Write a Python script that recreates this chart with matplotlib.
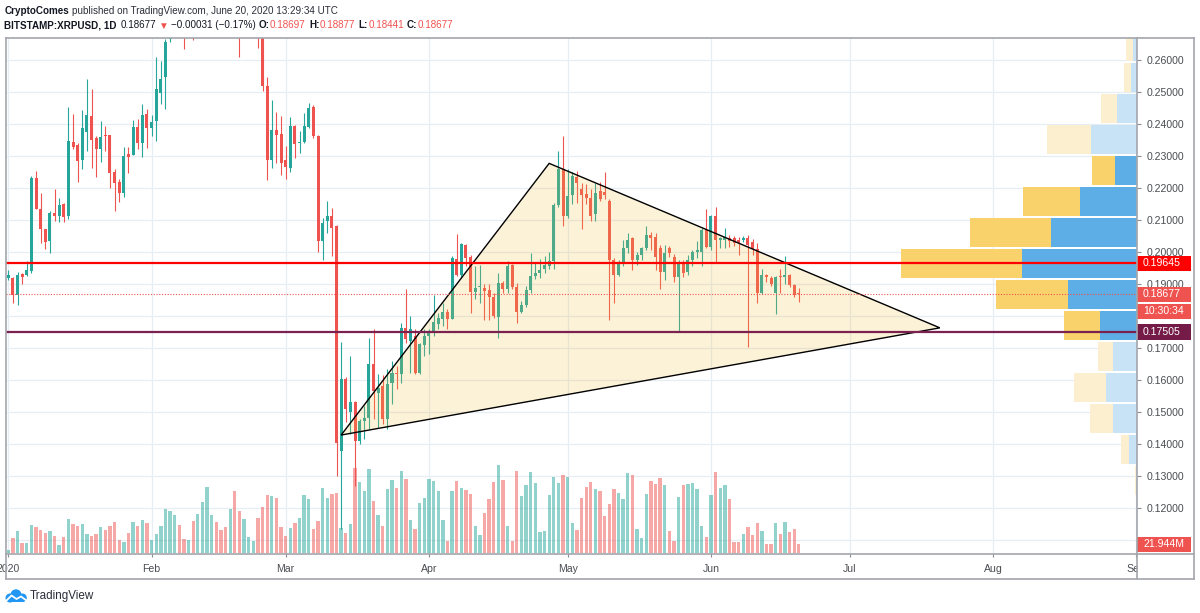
import numpy as np
import pandas as pd
import matplotlib
matplotlib.use('Agg')
import matplotlib.pyplot as plt
import matplotlib.dates as mdates
from matplotlib.patches import Polygon, Rectangle, Circle
from matplotlib.lines import Line2D
from matplotlib.ticker import FuncFormatter

plt.rcParams['font.family'] = ['Liberation Sans', 'DejaVu Sans']

# ---- daily XRPUSD candles, 2020-01-01 .. 2020-06-20 ----
start = '2020-01-01'
opens = [
    0.1920, 0.1920, 0.1865, 0.1931, 0.1927, 0.1940, 0.2230, 0.2135, 0.2073, 0.2035,
    0.2123, 0.2112, 0.2150, 0.2111, 0.2344, 0.2335, 0.2289, 0.2376, 0.2425, 0.2356,
    0.2323, 0.2367, 0.2365, 0.2250, 0.2220, 0.2185, 0.2305, 0.2304, 0.2390, 0.2342,
    0.2431, 0.2386, 0.2409, 0.2498, 0.2548, 0.2665, 0.2700, 0.2760, 0.2720, 0.2680,
    0.2760, 0.2700, 0.2800, 0.2900, 0.3000, 0.3200, 0.3100, 0.3000, 0.2800, 0.2900,
    0.2800, 0.2750, 0.2800, 0.2850, 0.2900, 0.2800, 0.2519, 0.2286, 0.2381, 0.2368,
    0.2286, 0.2263, 0.2394, 0.2340, 0.2344, 0.2392, 0.2454, 0.2363, 0.2035, 0.2097,
    0.2113, 0.2081, 0.1378, 0.1602, 0.1500, 0.1530, 0.1409, 0.1472, 0.1480, 0.1649,
    0.1560, 0.1581, 0.1477, 0.1592, 0.1623, 0.1618, 0.1764, 0.1722, 0.1737, 0.1623,
    0.1709, 0.1737, 0.1753, 0.1774, 0.1792, 0.1812, 0.1792, 0.1979, 0.1927, 0.2021,
    0.1985, 0.1875, 0.1890, 0.1888, 0.1880, 0.1859, 0.1798, 0.1904, 0.1885, 0.1958,
    0.1891, 0.1812, 0.1833, 0.1880, 0.1925, 0.1933, 0.1946, 0.1956, 0.1972, 0.2146,
    0.2260, 0.2113, 0.2177, 0.2235, 0.2198, 0.2180, 0.2170, 0.2118, 0.2190, 0.2188,
    0.2159, 0.1975, 0.1928, 0.1970, 0.2012, 0.2043, 0.1975, 0.1991, 0.2012, 0.2054,
    0.2048, 0.2012, 0.1938, 0.2014, 0.1985, 0.1923, 0.1970, 0.1938, 0.1975, 0.2001,
    0.2001, 0.2069, 0.2017, 0.2111, 0.2038, 0.2038, 0.2043, 0.2043, 0.2038, 0.2038,
    0.2043, 0.2030, 0.2008, 0.1873, 0.1927, 0.1920, 0.1873, 0.1925, 0.1923, 0.1927,
    0.1896, 0.18697]
highs = [
    0.1943, 0.1922, 0.1937, 0.1933, 0.1971, 0.2237, 0.2254, 0.2185, 0.2073, 0.2127,
    0.2196, 0.2169, 0.2154, 0.2452, 0.2432, 0.2342, 0.2444, 0.2540, 0.2510, 0.2363,
    0.2410, 0.2394, 0.2365, 0.2260, 0.2227, 0.2328, 0.2328, 0.2411, 0.2415, 0.2463,
    0.2448, 0.2427, 0.2608, 0.2598, 0.2665, 0.2750, 0.2800, 0.2790, 0.2760, 0.2790,
    0.2800, 0.2830, 0.2950, 0.3050, 0.3250, 0.3400, 0.3150, 0.3050, 0.2950, 0.2950,
    0.2850, 0.2850, 0.2900, 0.2950, 0.2950, 0.2820, 0.2548, 0.2475, 0.2438, 0.2425,
    0.2331, 0.2423, 0.2396, 0.2377, 0.2433, 0.2467, 0.2458, 0.2365, 0.2107, 0.2160,
    0.2138, 0.2083, 0.1719, 0.1610, 0.1675, 0.1535, 0.1477, 0.1519, 0.1732, 0.1758,
    0.1618, 0.1615, 0.1633, 0.1659, 0.1644, 0.1779, 0.1883, 0.1800, 0.1758, 0.1717,
    0.1760, 0.1758, 0.1867, 0.1810, 0.1842, 0.1821, 0.1987, 0.2055, 0.2029, 0.2024,
    0.1992, 0.1956, 0.1958, 0.1899, 0.1899, 0.1872, 0.1935, 0.1909, 0.1972, 0.1961,
    0.1904, 0.1846, 0.1893, 0.1998, 0.1967, 0.1977, 0.1987, 0.2000, 0.2154, 0.2316,
    0.2363, 0.2260, 0.2250, 0.2253, 0.2217, 0.2211, 0.2196, 0.2217, 0.2219, 0.2250,
    0.2165, 0.1980, 0.1975, 0.2038, 0.2059, 0.2046, 0.2001, 0.2017, 0.2080, 0.2061,
    0.2059, 0.2022, 0.2022, 0.2020, 0.1993, 0.1975, 0.1975, 0.1991, 0.2007, 0.2033,
    0.2074, 0.2134, 0.2116, 0.2142, 0.2048, 0.2074, 0.2054, 0.2050, 0.2048, 0.2050,
    0.2054, 0.2040, 0.2029, 0.1946, 0.1930, 0.1925, 0.1925, 0.1946, 0.1988, 0.1930,
    0.1900, 0.18877]
lows = [
    0.1911, 0.1842, 0.1835, 0.1899, 0.1925, 0.1933, 0.2133, 0.2029, 0.2008, 0.1996,
    0.2097, 0.2094, 0.2095, 0.2104, 0.2321, 0.2219, 0.2260, 0.2315, 0.2261, 0.2234,
    0.2280, 0.2316, 0.2200, 0.2127, 0.2157, 0.2173, 0.2248, 0.2302, 0.2321, 0.2296,
    0.2325, 0.2363, 0.2347, 0.2461, 0.2448, 0.2655, 0.2690, 0.2700, 0.2634, 0.2675,
    0.2663, 0.2690, 0.2780, 0.2850, 0.2950, 0.3050, 0.2950, 0.2750, 0.2750, 0.2720,
    0.2610, 0.2700, 0.2750, 0.2800, 0.2637, 0.2503, 0.2225, 0.2263, 0.2279, 0.2242,
    0.2229, 0.2250, 0.2294, 0.2310, 0.2342, 0.2389, 0.2357, 0.2000, 0.1975, 0.2060,
    0.1988, 0.1300, 0.1135, 0.1470, 0.1430, 0.1269, 0.1399, 0.1415, 0.1446, 0.1477,
    0.1451, 0.1461, 0.1446, 0.1524, 0.1571, 0.1592, 0.1717, 0.1623, 0.1618, 0.1618,
    0.1675, 0.1680, 0.1737, 0.1758, 0.1769, 0.1758, 0.1790, 0.1925, 0.1920, 0.1956,
    0.1810, 0.1852, 0.1841, 0.1789, 0.1789, 0.1795, 0.1732, 0.1872, 0.1872, 0.1883,
    0.1777, 0.1808, 0.1829, 0.1873, 0.1915, 0.1920, 0.1933, 0.1946, 0.1946, 0.2142,
    0.2081, 0.2107, 0.2149, 0.2154, 0.2071, 0.2149, 0.2097, 0.2097, 0.2159, 0.2165,
    0.1788, 0.1841, 0.1925, 0.1955, 0.1996, 0.1944, 0.1960, 0.1975, 0.2007, 0.2007,
    0.1944, 0.1885, 0.1912, 0.1985, 0.1907, 0.1749, 0.1923, 0.1928, 0.1955, 0.1980,
    0.1955, 0.2012, 0.2007, 0.1965, 0.2012, 0.2012, 0.2017, 0.2020, 0.1991, 0.2030,
    0.1704, 0.1990, 0.1842, 0.1868, 0.1905, 0.1895, 0.1805, 0.1873, 0.1899, 0.1890,
    0.1860, 0.18441]
closes = [
    0.1928, 0.1865, 0.1927, 0.1923, 0.1943, 0.2232, 0.2135, 0.2071, 0.2032, 0.2123,
    0.2111, 0.2146, 0.2110, 0.2347, 0.2329, 0.2285, 0.2388, 0.2427, 0.2351, 0.2321,
    0.2358, 0.2362, 0.2248, 0.2217, 0.2185, 0.2300, 0.2298, 0.2390, 0.2342, 0.2429,
    0.2386, 0.2406, 0.2508, 0.2542, 0.2656, 0.2700, 0.2760, 0.2720, 0.2680, 0.2760,
    0.2700, 0.2800, 0.2900, 0.3000, 0.3200, 0.3100, 0.3000, 0.2800, 0.2900, 0.2800,
    0.2750, 0.2800, 0.2850, 0.2900, 0.2800, 0.2519, 0.2286, 0.2381, 0.2367, 0.2279,
    0.2265, 0.2394, 0.2338, 0.2345, 0.2394, 0.2450, 0.2363, 0.2035, 0.2090, 0.2113,
    0.2076, 0.1402, 0.1602, 0.1510, 0.1530, 0.1409, 0.1472, 0.1482, 0.1649, 0.1566,
    0.1576, 0.1477, 0.1586, 0.1623, 0.1618, 0.1764, 0.1727, 0.1758, 0.1623, 0.1711,
    0.1737, 0.1750, 0.1781, 0.1795, 0.1812, 0.1792, 0.1982, 0.1927, 0.2024, 0.1982,
    0.1875, 0.1888, 0.1893, 0.1877, 0.1859, 0.1800, 0.1904, 0.1883, 0.1956, 0.1891,
    0.1812, 0.1833, 0.1880, 0.1925, 0.1933, 0.1943, 0.1958, 0.1972, 0.2146, 0.2260,
    0.2113, 0.2175, 0.2238, 0.2217, 0.2177, 0.2170, 0.2113, 0.2185, 0.2165, 0.2177,
    0.1975, 0.1928, 0.1970, 0.2012, 0.2038, 0.1975, 0.1991, 0.2012, 0.2054, 0.2043,
    0.1985, 0.1938, 0.1998, 0.1998, 0.1923, 0.1970, 0.1933, 0.1975, 0.2001, 0.2007,
    0.2069, 0.2017, 0.2111, 0.2038, 0.2043, 0.2048, 0.2033, 0.2027, 0.2027, 0.2043,
    0.2022, 0.2010, 0.1873, 0.1927, 0.1923, 0.1899, 0.1923, 0.1921, 0.1927, 0.1896,
    0.1865, 0.18677]
# volume, millions
volumes = [
    7.6, 38.6, 54.7, 26.0, 26.0, 69.8, 65.5, 57.2, 51.2, 55.4,
    42.8, 20.9, 40.3, 84.9, 72.3, 67.3, 73.8, 47.1, 42.8, 48.6,
    66.3, 58.7, 67.3, 77.4, 32.8, 28.5, 51.2, 77.4, 68.8, 82.4,
    75.6, 33.5, 47.9, 68.0, 111.6, 105.8, 95.8, 71.3, 36.0, 32.0,
    79.9, 98.3, 128.5, 166.3, 96.5, 78.1, 57.2, 65.5, 110.9, 155.5,
    105.1, 85.7, 40.3, 31.0, 89.0, 115.2, 146.2, 142.9, 137.8, 66.3,
    43.6, 62.2, 76.4, 89.0, 146.2, 136.1, 61.2, 79.9, 164.6, 139.4,
    149.4, 151.2, 63.0, 50.4, 72.3, 214.2, 178.2, 155.5, 211.7, 130.3,
    95.0, 67.3, 161.3, 184.7, 163.0, 205.4, 186.5, 83.2, 59.7, 126.8,
    137.8, 185.7, 181.4, 156.2, 83.2, 30.2, 155.5, 182.2, 164.6, 158.8,
    147.9, 68.0, 45.4, 101.6, 136.8, 178.9, 222.5, 183.2, 68.0, 30.2,
    206.6, 143.6, 172.1, 204.1, 177.2, 53.7, 56.2, 145.4, 192.3, 175.6,
    195.8, 192.3, 76.4, 58.0, 137.8, 167.1, 179.7, 160.5, 157.0, 93.2,
    124.2, 160.5, 150.4, 135.3, 200.8, 197.3, 61.2, 38.6, 147.9, 181.4,
    173.1, 189.0, 172.1, 55.4, 30.2, 141.1, 170.6, 173.1, 177.2, 162.0,
    68.0, 41.1, 146.2, 204.9, 164.6, 171.4, 136.8, 27.7, 28.5, 47.9,
    66.3, 46.1, 76.4, 56.2, 23.4, 21.9, 74.8, 47.9, 78.1, 53.7,
    61.2, 21.944]

# volume profile rows (price centre, up volume, down volume, inside value area)
vp_price = [0.2642, 0.2545, 0.2448, 0.2351, 0.2254, 0.2157, 0.2060, 0.1964,
            0.1867, 0.1770, 0.1673, 0.1576, 0.1479, 0.1382, 0.1285]
vp_up = [4.3, 6.0, 20.0, 45.7, 22.0, 56.7, 85.7, 114.7, 69.3, 37.3, 23.7, 30.7, 24.0, 8.3, 1.0]
vp_down = [7.0, 6.7, 15.7, 44.0, 22.7, 57.0, 81.3, 121.3, 71.3, 35.3, 15.7, 32.3, 23.3, 7.3, 1.3]
vp_value_area = [False, False, False, False, True, True, True, True, True, True,
                 False, False, False, False, False]

# drawings
triangle = [('2020-03-13', 0.1428), ('2020-04-27', 0.2277), ('2020-07-20 12:00', 0.1763)]
resistance = 0.19645
support = 0.17505
last_price = 0.18677
countdown = '10:30:34'
last_volume_label = '21.944M'
price_ticks = [0.11, 0.12, 0.13, 0.14, 0.15, 0.16, 0.17, 0.18, 0.19, 0.20,
               0.21, 0.22, 0.23, 0.24, 0.25, 0.26]
hidden_tick_labels = [0.11, 0.18]   # fully covered by the price tags
month_starts = ['2020-01-01', '2020-02-01', '2020-03-01', '2020-04-01', '2020-05-01',
                '2020-06-01', '2020-07-01', '2020-08-01', '2020-09-01']
month_labels = ['2020', 'Feb', 'Mar', 'Apr', 'May', 'Jun', 'Jul', 'Aug', 'Sep']

assert len(opens) == len(highs) == len(lows) == len(closes) == len(volumes)

W, H = 1200, 613
fig = plt.figure(figsize=(12, 6.13), dpi=100)
fig.patch.set_facecolor('white')

def fx(px):
    return px / W

def fy(py):
    return 1 - py / H

GREEN = '#26a69a'
RED = '#ef5350'
LBL = 7.6
pane = [fx(5.7), fy(553), fx(1137) - fx(5.7), fy(38) - fy(553)]

ax_grid = fig.add_axes(pane, zorder=0)
ax_v = fig.add_axes(pane, zorder=1, sharex=ax_grid)
ax_vp = fig.add_axes(pane, zorder=1.5)
ax = fig.add_axes(pane, zorder=2, sharex=ax_grid, sharey=ax_grid)

x = mdates.date2num(pd.date_range(start, periods=len(opens), freq='D'))
x0 = mdates.date2num(pd.Timestamp(start))
ylim = (0.10594, 0.26688)
ax_grid.set_xlim(x0 - 0.56, x0 + 244.15)
ax_grid.set_ylim(*ylim)

# grid + axes labels
ax_grid.set_facecolor('white')
for s in ax_grid.spines.values():
    s.set_visible(False)
ax_grid.set_yticks(price_ticks)

def price_fmt(v, pos):
    if any(abs(v - h) < 1e-9 for h in hidden_tick_labels):
        return ''
    return '%.5f' % v

ax_grid.yaxis.set_major_formatter(FuncFormatter(price_fmt))
ax_grid.yaxis.tick_right()
mx = mdates.date2num(pd.to_datetime(month_starts))
ax_grid.set_xticks(mx)
ax_grid.set_xticklabels(month_labels)
ax_grid.grid(True, color='#e6edf3', lw=0.9)
ax_grid.tick_params(axis='y', length=3, width=0.8, color='#8a8d92', pad=4,
                    labelsize=LBL, labelcolor='#4a4d52')
ax_grid.tick_params(axis='x', length=3, width=0.8, color='#8a8d92', pad=5,
                    labelsize=LBL, labelcolor='#4a4d52')

for a in (ax_v, ax_vp, ax):
    a.set_axis_off()
    a.patch.set_visible(False)

# volume
o = np.array(opens); c = np.array(closes)
up = c >= o
vcol = [(0.149, 0.651, 0.604, 0.5) if u else (0.937, 0.325, 0.314, 0.5) for u in up]
ax_v.bar(x, volumes, width=0.72, color=vcol, linewidth=0)
ax_v.set_ylim(0, 1297.8)

# volume profile (right side, growing leftwards)
ax_vp.set_xlim(1131.3, 0)
ax_vp.set_ylim(*ylim)
row_h = 0.0091
for p, u, d, va in zip(vp_price, vp_up, vp_down, vp_value_area):
    cb = '#5daee6' if va else '#c8e3f6'
    cy = '#f9d26b' if va else '#fcefcf'
    ax_vp.barh(p, u, height=row_h, left=0, color=cb, linewidth=0)
    ax_vp.barh(p, d, height=row_h, left=u, color=cy, linewidth=0)

# candles
ccol = [GREEN if u else RED for u in up]
ax.vlines(x, lows, highs, colors=ccol, lw=0.8, zorder=2)
body_lo = np.minimum(o, c)
body_h = np.maximum(np.abs(c - o), 0.0003)
ax.bar(x, body_h, bottom=body_lo, width=0.65, color=ccol, linewidth=0, zorder=3)

# triangle drawing
tri = [(mdates.date2num(pd.Timestamp(t)), p) for t, p in triangle]
ax.add_patch(Polygon(tri, closed=True, facecolor=(0.95, 0.75, 0.25, 0.2),
                     edgecolor='black', lw=1.0, zorder=4))

# horizontal levels
ax.axhline(resistance, color='#ff0000', lw=1.6, zorder=5)
ax.axhline(support, color='#7b2150', lw=1.6, zorder=5)
ax.axhline(last_price, color=RED, lw=0.8, ls=(0, (1, 1.5)), zorder=5)
ax.set_xlim(x0 - 0.56, x0 + 244.15)
ax.set_ylim(*ylim)

# price tags on the scale
def tag(ydisp, text, color):
    hh = 7.7
    fig.add_artist(Rectangle((fx(1137), ydisp / H - hh / H), fx(1191) - fx(1137), 2 * hh / H,
                             transform=fig.transFigure, facecolor=color, edgecolor='none', zorder=5))
    fig.text(fx(1143), ydisp / H, text, color='white', va='center', ha='left',
             fontsize=LBL, zorder=6)

def ypix(axis, v):
    return axis.transData.transform((x0, v))[1]

tag(ypix(ax, resistance), '%.5f' % resistance, '#ff0000')
tag(ypix(ax, last_price), '%.5f' % last_price, RED)
tag(ypix(ax, last_price) - 17, countdown, RED)
tag(ypix(ax, support), '%.5f' % support, '#741b47')
tag(ypix(ax_v, volumes[-1]), last_volume_label, RED)

# hide the part of the last month label that runs under the price scale
fig.add_artist(Rectangle((fx(1138), fy(578.5)), fx(1193.5) - fx(1138), (578.5 - 554) / H,
                         transform=fig.transFigure, facecolor='white', edgecolor='none', zorder=4))

# chart frame
fc = '#a3a6ab'
for (xa, ya, xb, yb) in [(5.7, 38, 1194, 38), (5.7, 579, 1194, 579), (5.7, 38, 5.7, 579),
                         (1194, 38, 1194, 579), (1137, 38, 1137, 579), (5.7, 553.5, 1194, 553.5)]:
    fig.add_artist(Line2D([fx(xa), fx(xb)], [fy(ya), fy(yb)], transform=fig.transFigure,
                          color=fc, lw=1.2, zorder=7))

# header
renderer = fig.canvas.get_renderer()

def pieces(y, parts, x_start=4.5, size=7.1):
    xp = x_start
    for s, col, bold, gap in parts:
        t = fig.text(fx(xp), fy(y), s, color=col, fontsize=size, va='center', ha='left',
                     fontweight='bold' if bold else 'normal')
        xp += t.get_window_extent(renderer=renderer).width + gap

DARK = '#131722'
pieces(11, [('CryptoComes', DARK, True, 2.5),
            ('published on TradingView.com, June 20, 2020 13:29:34 UTC', '#2a2e39', False, 0)])
pieces(25.5, [('BITSTAMP:XRPUSD, 1D', DARK, True, 3.5),
              ('0.18677', DARK, False, 2.5),
              ('\u25bc', RED, False, 2.5),
              ('\u22120.00031 (\u22120.17%)', DARK, False, 3),
              ('O:', DARK, True, 0.5), ('0.18697', RED, False, 3),
              ('H:', DARK, True, 0.5), ('0.18877', RED, False, 3),
              ('L:', DARK, True, 0.5), ('0.18441', RED, False, 3),
              ('C:', DARK, True, 0.5), ('0.18677', RED, False, 0)])

# TradingView logo
lax = fig.add_axes([fx(5), fy(603), fx(28) - fx(5), fy(589) - fy(603)])
lax.set_xlim(0, 23)
lax.set_ylim(0, 14)
lax.set_axis_off()
for cx, cy, r in [(5, 5, 4.5), (11, 8.2, 5.5), (17.5, 5.2, 4.3)]:
    lax.add_patch(Circle((cx, cy), r, color='#2196f3', lw=0))
lax.add_patch(Rectangle((5, 0.6), 12.5, 4.5, color='#2196f3', lw=0))
lax.plot([1.5, 6.5, 11.5, 16, 21], [2.5, 7.5, 4.0, 6.5, 2.8], color='white', lw=1.3)
fig.text(fx(30), fy(596.5), 'TradingView', fontsize=8.4, color='#2a2e39', va='center', ha='left')

fig.savefig('out.png', dpi=100)
